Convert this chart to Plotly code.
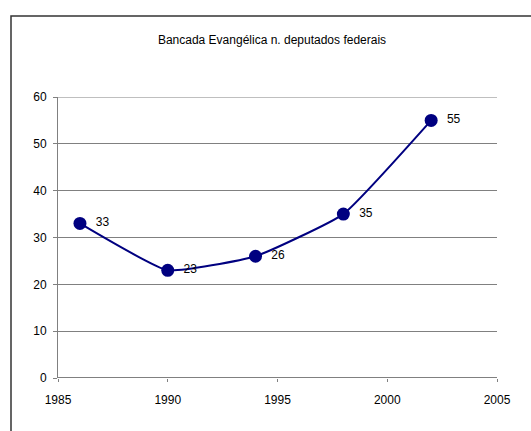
import plotly.graph_objects as go

years = [1986, 1990, 1994, 1998, 2002]
deputados = [33, 23, 26, 35, 55]
labels = ["  " + str(v) for v in deputados]
title_text = "Bancada Evangélica n. deputados federais"

fig = go.Figure()
fig.add_trace(go.Scatter(
    x=years, y=deputados, mode="lines+markers+text",
    text=labels, textposition="middle right",
    textfont=dict(family="Liberation Sans, Arial", size=12, color="#000000"),
    line=dict(color="#000080", width=2, shape="spline", smoothing=0.4),
    marker=dict(color="#000080", size=13),
    cliponaxis=False, showlegend=False,
))

L, R, T, B = 58, 34, 97, 53
W, H = 531, 431
pw, ph = W - L - R, H - T - B

def px_x(p):
    return (p - L) / pw

def px_y(p):
    return (H - B - p) / ph

fig.add_shape(type="rect", xref="paper", yref="paper",
              x0=px_x(11), x1=px_x(545), y0=px_y(445), y1=px_y(16),
              line=dict(color="#333333", width=1.5), layer="below")

fig.update_layout(
    width=W, height=H,
    margin=dict(l=L, r=R, t=T, b=B),
    paper_bgcolor="white", plot_bgcolor="white",
    font=dict(family="Liberation Sans, Arial", size=12, color="#000000"),
    title=dict(text=title_text, x=272 / W, xanchor="center",
               y=1 - 40 / H, yanchor="middle", yref="container",
               font=dict(size=12)),
    xaxis=dict(range=[1985, 2005], tickvals=[1985, 1990, 1995, 2000, 2005],
               showgrid=False, zeroline=False, showline=False,
               ticks="outside", ticklen=3, tickcolor="#808080",
               ticklabelstandoff=8,
               tickfont=dict(size=12)),
    yaxis=dict(range=[0, 60], tickvals=[0, 10, 20, 30, 40, 50, 60],
               showgrid=True, gridcolor="#808080", gridwidth=1,
               zeroline=False, showline=True, linecolor="#808080", linewidth=1,
               ticks="outside", ticklen=4, tickcolor="#808080",
               ticklabelstandoff=4,
               tickfont=dict(size=12)),
)
fig.add_shape(type="line", xref="paper", yref="y", x0=0, x1=1, y0=0, y1=0,
              line=dict(color="#000000", width=1))
fig.add_shape(type="line", xref="paper", yref="y", x0=0, x1=1, y0=60, y1=60,
              line=dict(color="#808080", width=1), layer="below")

fig.write_html("out.html")
